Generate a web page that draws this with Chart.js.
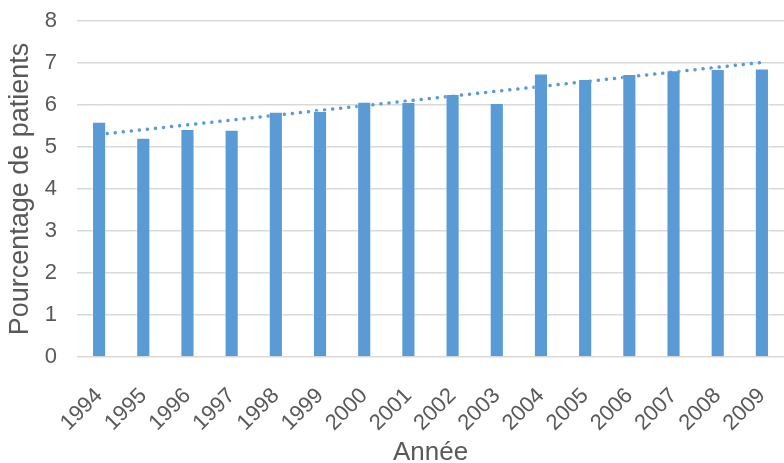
<!DOCTYPE html>
<html>
<head>
<meta charset="utf-8">
<script src="https://cdn.jsdelivr.net/npm/chart.js@4"></script>
<style>
  html, body { margin: 0; padding: 0; background: #fff; }
  #wrap { width: 784px; height: 463px; }
</style>
</head>
<body>
<div id="wrap"><canvas id="chart" width="784" height="463"></canvas></div>
<script>
// years and percentages
const annees = ['1994', '1995', '1996', '1997', '1998', '1999', '2000', '2001',
                '2002', '2003', '2004', '2005', '2006', '2007', '2008', '2009'];
const pourcentages = [5.60, 5.22, 5.43, 5.41, 5.84, 5.86, 6.08, 6.07,
                      6.26, 6.05, 6.75, 6.62, 6.74, 6.83, 6.86, 6.87];
const yTicks = [0, 1, 2, 3, 4, 5, 6, 7, 8];

// linear trendline (least squares, like Excel)
function tendance(vals) {
    const n = vals.length;
    let sx = 0, sy = 0, sxy = 0, sxx = 0;
    vals.forEach((v, i) => { sx += i; sy += v; sxy += i * v; sxx += i * i; });
    const b = (n * sxy - sx * sy) / (n * sxx - sx * sx);
    const a = (sy - b * sx) / n;
    return vals.map((v, i) => a + b * i);
}

const grey = '#595959';
const bleu = '#5B9BD5';

const ctx = document.getElementById('chart').getContext('2d');
new Chart(ctx, {
    type: 'bar',
    data: {
        labels: annees,
        datasets: [
            {
                type: 'bar',
                label: 'Pourcentage',
                data: pourcentages,
                backgroundColor: bleu,
                borderColor: 'rgba(255,255,255,0.45)',
                borderWidth: 1,
                categoryPercentage: 1,
                barPercentage: 0.32,
                order: 1
            },
            {
                type: 'line',
                label: 'Tendance',
                data: tendance(pourcentages),
                borderColor: bleu,
                borderWidth: 3.5,
                borderDash: [0.1, 8],
                borderCapStyle: 'round',
                pointRadius: 0,
                fill: false,
                order: 2
            }
        ]
    },
    options: {
        responsive: false,
        animation: false,
        layout: { padding: { top: 21, right: 0, left: 0, bottom: 0 } },
        plugins: { legend: { display: false }, tooltip: { enabled: false } },
        scales: {
            x: {
                grid: { display: false },
                border: { display: false },
                ticks: {
                    color: grey,
                    font: { family: 'Liberation Sans', size: 22 },
                    maxRotation: 45,
                    minRotation: 45,
                    padding: 18
                },
                title: {
                    display: true,
                    text: 'Année',
                    color: grey,
                    font: { family: 'Liberation Sans', size: 26 },
                    padding: { top: 0, bottom: -5 }
                },
                afterFit: axis => {
                    axis.height = 106;
                    axis.paddingLeft = 0;
                    axis.paddingRight = 0;
                }
            },
            y: {
                min: 0,
                max: 8,
                afterBuildTicks: axis => { axis.ticks = yTicks.map(v => ({ value: v })); },
                grid: { color: '#d9d9d9', lineWidth: 1.5, drawTicks: false },
                border: { display: false },
                ticks: {
                    color: grey,
                    font: { family: 'Liberation Sans', size: 22 },
                    padding: 20
                },
                title: {
                    display: true,
                    text: 'Pourcentage de patients',
                    color: grey,
                    font: { family: 'Liberation Sans', size: 27 },
                    padding: { top: 4, bottom: 0 }
                },
                afterFit: axis => {
                    axis.width = 77;
                    axis.paddingTop = 0;
                    axis.paddingBottom = 0;
                }
            }
        }
    }
});
</script>
</body>
</html>
